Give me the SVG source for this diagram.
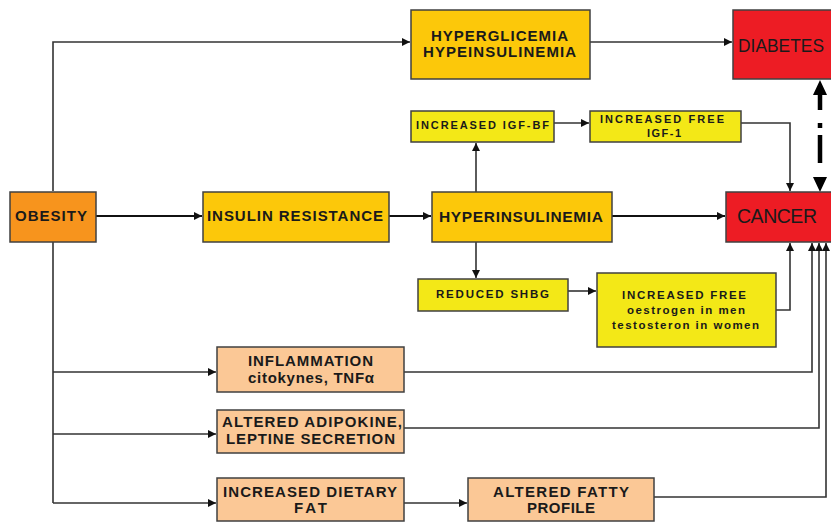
<svg xmlns="http://www.w3.org/2000/svg" width="831" height="523" viewBox="0 0 831 523">
<style>
.box{stroke:#404040;stroke-width:1.5}
.orange{fill:#f7941d}
.gold{fill:#fcc80a}
.yellow{fill:#f3e817}
.red{fill:#ed1c24}
.peach{fill:#fbc896}
text{font-family:"Liberation Sans",Arial,sans-serif;font-weight:bold;fill:#1a1a1a}
.t14{font-size:15px}
.t11{font-size:11.5px}
.big{font-size:19.5px;font-weight:normal}
.c{fill:none;stroke:#333;stroke-width:1.6}
.m{fill:none;stroke:#111;stroke-width:2.2}
</style>
<defs>
<marker id="a" markerUnits="userSpaceOnUse" markerWidth="9" markerHeight="8" refX="8" refY="4" orient="auto">
<path d="M0,0 L8,4 L0,8 Z" fill="#111"/>
</marker>
</defs>

<g id="connectors">
<path class="c" d="M53,191 V42 H410" marker-end="url(#a)"/>
<path class="c" d="M590,42 H732" marker-end="url(#a)"/>
<path class="m" d="M96,216 H202" marker-end="url(#a)"/>
<path class="m" d="M389,216 H431" marker-end="url(#a)"/>
<path class="m" d="M612,216 H725" marker-end="url(#a)"/>
<path class="c" d="M476,192 V143" marker-end="url(#a)"/>
<path class="c" d="M554,123 H589" marker-end="url(#a)"/>
<path class="c" d="M741,123 H790 V191" marker-end="url(#a)"/>
<path class="c" d="M476,242 V278" marker-end="url(#a)"/>
<path class="c" d="M568,291 H596" marker-end="url(#a)"/>
<path class="c" d="M776,310 H790 V243" marker-end="url(#a)"/>
<path class="c" d="M53,242 V503"/>
<path class="c" d="M53,372 H216" marker-end="url(#a)"/>
<path class="c" d="M53,434 H216" marker-end="url(#a)"/>
<path class="c" d="M53,503 H216" marker-end="url(#a)"/>
<path class="c" d="M404,372 H812 V243" marker-end="url(#a)"/>
<path class="c" d="M404,428 H819 V243" marker-end="url(#a)"/>
<path class="c" d="M404,503 H467" marker-end="url(#a)"/>
<path class="c" d="M654,497 H826 V243" marker-end="url(#a)"/>
<g id="diabetes-cancer">
<path d="M820,80 L813,95 L827,95 Z" fill="#000"/>
<path d="M820,94 V110 M820,123 V128 M820,135 V163" stroke="#000" stroke-width="4.5" fill="none"/>
<path d="M813,177 L827,177 L820,192 Z" fill="#000"/>
</g>
</g>

<g id="obesity">
<rect class="box orange" x="10" y="192" width="86" height="50"/>
<text class="t14" x="15" y="221" textLength="72" lengthAdjust="spacing">OBESITY</text>
</g>
<g id="insulin-resistance">
<rect class="box gold" x="203" y="192" width="186" height="50"/>
<text class="t14" x="207" y="221" textLength="176" lengthAdjust="spacing">INSULIN RESISTANCE</text>
</g>
<g id="hyperinsulinemia">
<rect class="box gold" x="432" y="192" width="180" height="50"/>
<text x="439" y="222" style="font-size:15.5px" textLength="164" lengthAdjust="spacing">HYPERINSULINEMIA</text>
</g>
<g id="cancer">
<rect class="box red" x="726" y="192" width="110" height="50"/>
<text class="big" x="737" y="223" textLength="80" lengthAdjust="spacing">CANCER</text>
</g>
<g id="hyperglicemia">
<rect class="box gold" x="411" y="10" width="179" height="69"/>
<text class="t14" x="431" y="41" textLength="137" lengthAdjust="spacing">HYPERGLICEMIA</text>
<text class="t14" x="423" y="57" textLength="153" lengthAdjust="spacing">HYPEINSULINEMIA</text>
</g>
<g id="diabetes">
<rect class="box red" x="733" y="10" width="110" height="69"/>
<text x="738" y="52" style="font-size:18.5px;font-weight:normal" textLength="86" lengthAdjust="spacingAndGlyphs">DIABETES</text>
</g>
<g id="increased-igf-bf">
<rect class="box yellow" x="411" y="111" width="143" height="31"/>
<text x="416" y="129" style="font-size:11px" textLength="133" lengthAdjust="spacing">INCREASED IGF-BF</text>
</g>
<g id="increased-free-igf1">
<rect class="box yellow" x="590" y="111" width="151" height="31"/>
<text x="600" y="123" style="font-size:11px" textLength="124" lengthAdjust="spacing">INCREASED FREE</text>
<text x="647" y="137" style="font-size:11px" textLength="34" lengthAdjust="spacing">IGF-1</text>
</g>
<g id="reduced-shbg">
<rect class="box yellow" x="418" y="279" width="150" height="32"/>
<text class="t11" x="436" y="298" textLength="113" lengthAdjust="spacing">REDUCED SHBG</text>
</g>
<g id="increased-free-hormones">
<rect class="box yellow" x="597" y="273" width="179" height="74"/>
<text class="t11" x="622" y="299" textLength="124" lengthAdjust="spacing">INCREASED FREE</text>
<text class="t11" x="627" y="314" textLength="118" lengthAdjust="spacing">oestrogen in men</text>
<text class="t11" x="612" y="329" textLength="147" lengthAdjust="spacing">testosteron in women</text>
</g>
<g id="inflammation">
<rect class="box peach" x="217" y="347" width="187" height="45"/>
<text class="t14" x="248" y="366" textLength="125" lengthAdjust="spacing">INFLAMMATION</text>
<text class="t14" x="248" y="383" textLength="126" lengthAdjust="spacing">citokynes, TNFα</text>
</g>
<g id="adipokine">
<rect class="box peach" x="217" y="410" width="187" height="43"/>
<text class="t14" x="222" y="427" textLength="180" lengthAdjust="spacing">ALTERED ADIPOKINE,</text>
<text class="t14" x="226" y="444" textLength="169" lengthAdjust="spacing">LEPTINE SECRETION</text>
</g>
<g id="dietary-fat">
<rect class="box peach" x="217" y="478" width="187" height="43"/>
<text class="t14" x="223" y="497" textLength="174" lengthAdjust="spacing">INCREASED DIETARY</text>
<text class="t14" x="294" y="513" textLength="33" lengthAdjust="spacing">FAT</text>
</g>
<g id="fatty-profile">
<rect class="box peach" x="468" y="478" width="186" height="43"/>
<text class="t14" x="493" y="497" textLength="136" lengthAdjust="spacing">ALTERED FATTY</text>
<text class="t14" x="527" y="513" textLength="68" lengthAdjust="spacing">PROFILE</text>
</g>
</svg>
